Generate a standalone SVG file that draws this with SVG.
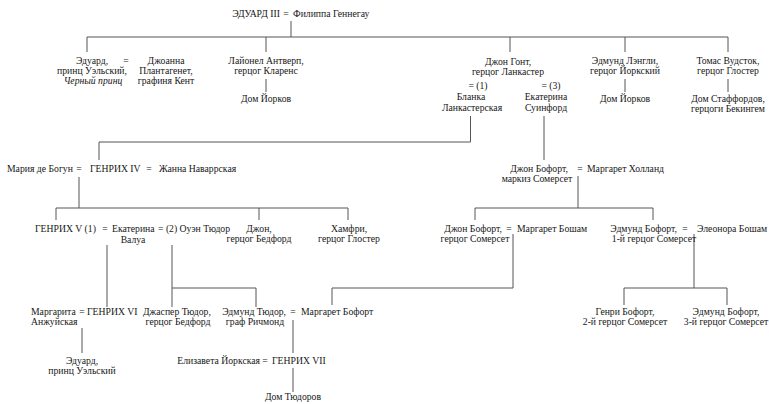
<svg xmlns="http://www.w3.org/2000/svg" width="769" height="404" viewBox="0 0 769 404">
<style>
text{font-family:"Liberation Serif","DejaVu Serif",serif;font-size:9.7px;fill:#161616}
.m{text-anchor:middle}
.e{text-anchor:end}
.i{font-style:italic}
.c line,.c polyline{stroke:#555;stroke-width:1;fill:none}
</style>
<rect width="769" height="404" fill="#fff"/>
<g class="c" id="connectors">
<line x1="291" y1="21" x2="291" y2="37"/>
<line x1="87" y1="37" x2="728" y2="37"/>
<line x1="87" y1="37" x2="87" y2="52"/>
<line x1="266" y1="37" x2="266" y2="52"/>
<line x1="510" y1="37" x2="510" y2="52"/>
<line x1="625" y1="37" x2="625" y2="52"/>
<line x1="728" y1="37" x2="728" y2="52"/>
<line x1="266" y1="79" x2="266" y2="92"/>
<line x1="625" y1="79" x2="625" y2="92"/>
<line x1="728" y1="79" x2="728" y2="92"/>
<polyline points="470.5,116 470.5,142 99,142 99,160"/>
<line x1="544" y1="116" x2="544" y2="160"/>
<line x1="79" y1="177" x2="79" y2="208"/>
<line x1="56" y1="208" x2="348" y2="208"/>
<line x1="56" y1="208" x2="56" y2="220"/>
<line x1="259" y1="208" x2="259" y2="220"/>
<line x1="348" y1="208" x2="348" y2="220"/>
<line x1="578" y1="176" x2="578" y2="208"/>
<line x1="475" y1="208" x2="653" y2="208"/>
<line x1="475" y1="208" x2="475" y2="220"/>
<line x1="653" y1="208" x2="653" y2="220"/>
<line x1="107" y1="245" x2="107" y2="307"/>
<line x1="172" y1="245" x2="172" y2="307"/>
<polyline points="172,288 256,288 256,307"/>
<polyline points="513,234 513,288 332,288 332,305"/>
<line x1="694" y1="234" x2="694" y2="288"/>
<line x1="624" y1="288" x2="727" y2="288"/>
<line x1="624" y1="288" x2="624" y2="305"/>
<line x1="727" y1="288" x2="727" y2="305"/>
<line x1="82" y1="328" x2="82" y2="353"/>
<line x1="293" y1="320" x2="293" y2="353"/>
<line x1="293" y1="368" x2="293" y2="392"/>
</g>
<g id="edward3">
<text x="280" y="17" class="e">ЭДУАРД III</text>
<text x="286" y="17" class="m">=</text>
<text x="293" y="17">Филиппа Геннегау</text>
</g>
<g id="blackprince">
<text x="92" y="64" class="m">Эдуард,</text>
<text x="92" y="74" class="m">принц Уэльский,</text>
<text x="93" y="84" class="m i">Черный принц</text>
<text x="126" y="64" class="m">=</text>
</g>
<g id="joan">
<text x="166" y="64" class="m">Джоанна</text>
<text x="166" y="74" class="m">Плантагенет,</text>
<text x="166" y="84" class="m">графиня Кент</text>
</g>
<g id="lionel">
<text x="266" y="64" class="m">Лайонел Антверп,</text>
<text x="266" y="74" class="m">герцог Кларенс</text>
</g>
<g id="york1">
<text x="266" y="102" class="m">Дом Йорков</text>
</g>
<g id="gaunt">
<text x="508" y="65" class="m">Джон Гонт,</text>
<text x="508" y="75" class="m">герцог Ланкастер</text>
</g>
<g id="blanche">
<text x="478" y="89" class="m">= (1)</text>
<text x="471" y="100" class="m">Бланка</text>
<text x="472" y="111" class="m">Ланкастерская</text>
</g>
<g id="swynford">
<text x="551" y="89" class="m">= (3)</text>
<text x="546" y="100" class="m">Екатерина</text>
<text x="546" y="111" class="m">Суинфорд</text>
</g>
<g id="langley">
<text x="625" y="64" class="m">Эдмунд Лэнгли,</text>
<text x="625" y="74" class="m">герцог Йоркский</text>
</g>
<g id="york2">
<text x="625" y="102" class="m">Дом Йорков</text>
</g>
<g id="woodstock">
<text x="728" y="64" class="m">Томас Вудсток,</text>
<text x="728" y="74" class="m">герцог Глостер</text>
</g>
<g id="stafford">
<text x="728" y="102" class="m">Дом Стаффордов,</text>
<text x="728" y="112" class="m">герцоги Бекингем</text>
</g>
<g id="henry4">
<text x="7" y="172">Мария де Богун</text>
<text x="79" y="172" class="m">=</text>
<text x="90" y="172">ГЕНРИХ IV</text>
<text x="149" y="172" class="m">=</text>
<text x="159" y="172">Жанна Наваррская</text>
</g>
<g id="beaufort1">
<text x="539" y="172" class="m">Джон Бофорт,</text>
<text x="537" y="182" class="m">маркиз Сомерсет</text>
<text x="580" y="172" class="m">=</text>
<text x="587" y="172">Маргарет Холланд</text>
</g>
<g id="henry5">
<text x="35" y="232">ГЕНРИХ V (1)</text>
<text x="105" y="232" class="m">=</text>
<text x="112" y="232">Екатерина</text>
<text x="133" y="243" class="m">Валуа</text>
<text x="158" y="232">= (2) Оуэн Тюдор</text>
</g>
<g id="bedford">
<text x="259" y="232" class="m">Джон,</text>
<text x="259" y="242" class="m">герцог Бедфорд</text>
</g>
<g id="humphrey">
<text x="349" y="232" class="m">Хамфри,</text>
<text x="349" y="242" class="m">герцог Глостер</text>
</g>
<g id="beaufort2">
<text x="502" y="232" class="e">Джон Бофорт,</text>
<text x="475" y="242" class="m">герцог Сомерсет</text>
<text x="509" y="232" class="m">=</text>
<text x="517" y="232">Маргарет Бошам</text>
</g>
<g id="edmundbeaufort">
<text x="677" y="232" class="e">Эдмунд Бофорт,</text>
<text x="654" y="242" class="m">1-й герцог Сомерсет</text>
<text x="685" y="232" class="m">=</text>
<text x="697" y="232">Элеонора Бошам</text>
</g>
<g id="henry6">
<text x="31" y="315">Маргарита</text>
<text x="31" y="325">Анжуйская</text>
<text x="82" y="315" class="m">=</text>
<text x="87" y="315">ГЕНРИХ VI</text>
</g>
<g id="jasper">
<text x="143" y="315">Джаспер Тюдор,</text>
<text x="178" y="325" class="m">герцог Бедфорд</text>
</g>
<g id="edmundtudor">
<text x="286" y="315" class="e">Эдмунд Тюдор,</text>
<text x="255" y="325" class="m">граф Ричмонд</text>
<text x="293" y="315" class="m">=</text>
<text x="301" y="315">Маргарет Бофорт</text>
</g>
<g id="henrybeaufort">
<text x="625" y="315" class="m">Генри Бофорт,</text>
<text x="625" y="325" class="m">2-й герцог Сомерсет</text>
</g>
<g id="edmundbeaufort3">
<text x="726" y="315" class="m">Эдмунд Бофорт,</text>
<text x="726" y="325" class="m">3-й герцог Сомерсет</text>
</g>
<g id="edwardprince">
<text x="82" y="364" class="m">Эдуард,</text>
<text x="82" y="374" class="m">принц Уэльский</text>
</g>
<g id="henry7">
<text x="260" y="364" class="e">Елизавета Йоркская</text>
<text x="265" y="364" class="m">=</text>
<text x="272" y="364">ГЕНРИХ VII</text>
</g>
<g id="tudors">
<text x="293" y="400" class="m">Дом Тюдоров</text>
</g>
</svg>
